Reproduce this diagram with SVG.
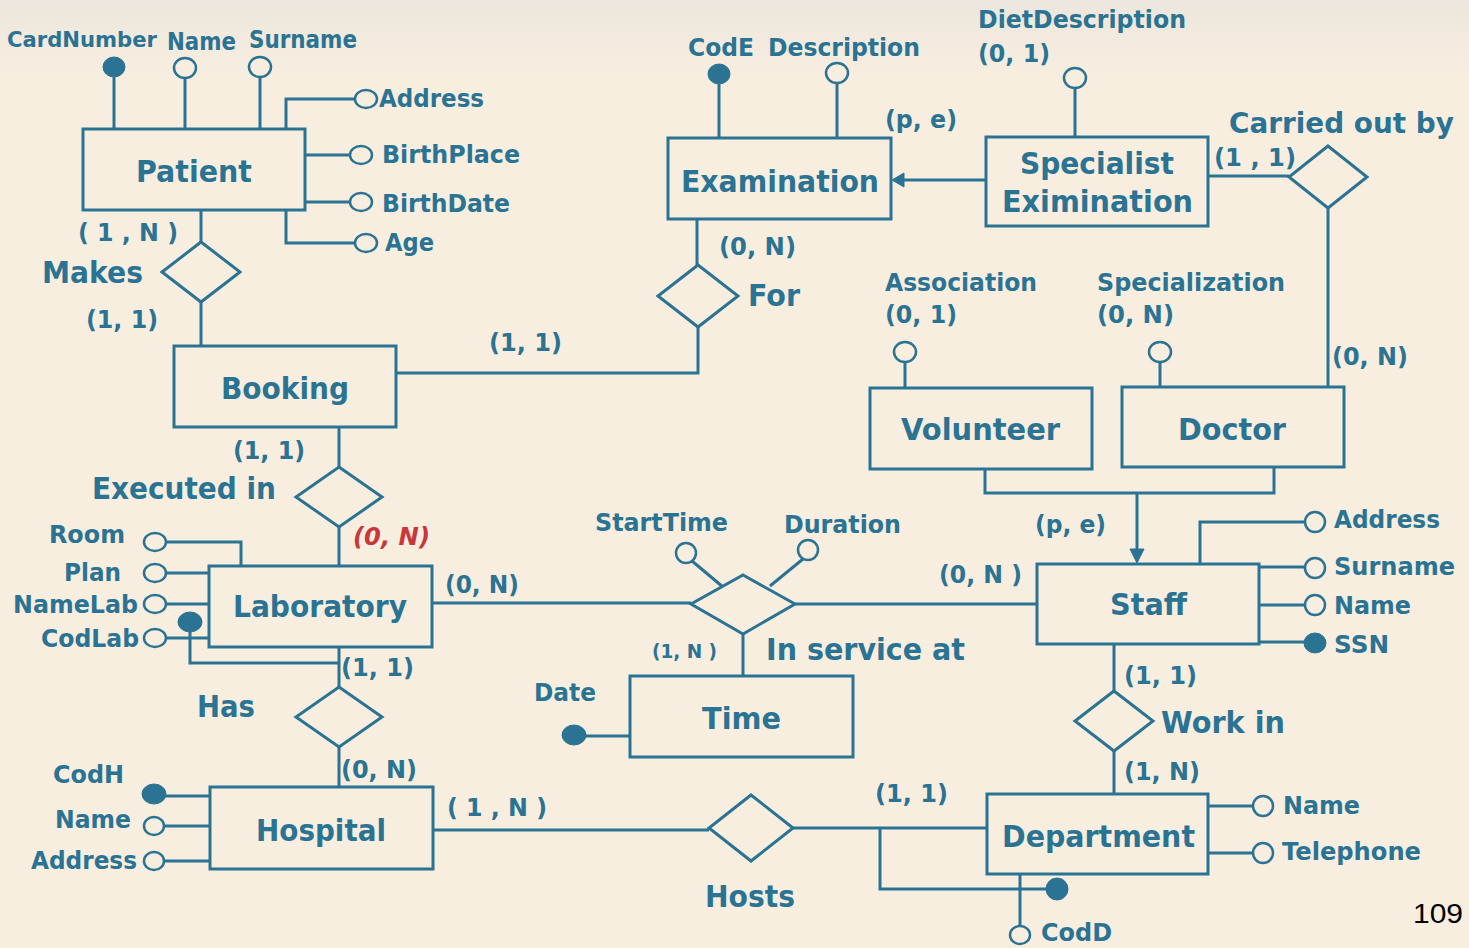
<svg xmlns="http://www.w3.org/2000/svg" width="1469" height="948" viewBox="0 0 1469 948">
<defs>
<style>
.e{fill:none;stroke:#2b7393;stroke-width:3}
.l{fill:none;stroke:#2b7393;stroke-width:3}
.o{fill:#f7eee0;stroke:#2b7393;stroke-width:2.5}
.f{fill:#2b7393;stroke:#2b7393;stroke-width:1}
text{font-family:"DejaVu Sans","Verdana",sans-serif;font-weight:bold;fill:#2b7393}
.t{font-size:31px}
.a{font-size:24px}
.s{font-size:19px}
.r{fill:#c8373a;font-style:italic}
.n{font-family:"Liberation Sans",Arial,sans-serif;font-weight:normal;fill:#000;font-size:28px}
</style>
<linearGradient id="bg" x1="0" y1="0" x2="0" y2="1">
<stop offset="0" stop-color="#ece6dc"/>
<stop offset="0.08" stop-color="#f7eee0"/>
<stop offset="1" stop-color="#f7eee0"/>
</linearGradient>
</defs>
<rect x="0" y="0" width="1469" height="948" fill="url(#bg)"/>

<g id="connectors">
<path class="l" d="M114 77V129M185 78V129M260 77V129M286 129V99H355M305 155H350M305 202H350M286 210V243H355"/>
<path class="l" d="M201 210V242M201 302V347"/>
<path class="l" d="M396 373H698V327M697 219V265"/>
<path class="l" d="M719 84V138M837 83V138"/>
<path class="l" d="M986 180H900"/>
<polygon class="f" points="892,180 904,173 904,187"/>
<path class="l" d="M1075 88V137"/>
<path class="l" d="M1208 176H1289M1328 208V387"/>
<path class="l" d="M905 362V388M1160 362V387"/>
<path class="l" d="M985 469V493H1274V467M1137 493V552"/>
<polygon class="f" points="1137,563 1130,549 1144,549"/>
<path class="l" d="M1200 564V522H1304M1259 567H1304M1259 605H1304M1259 642H1304"/>
<path class="l" d="M432 603H691M795 604H1037M743 634V676M692 561L723 587M803 559L770 586"/>
<path class="l" d="M585 736H630"/>
<path class="l" d="M339 427V467M339 527V566"/>
<path class="l" d="M166 542H241V566M166 573H209M166 604H209M166 638H209M190 622V663H339"/>
<path class="l" d="M339 647V687M339 747V787"/>
<path class="l" d="M154 796H210M165 826H210M165 861H210"/>
<path class="l" d="M433 830H709M793 828H987M880 828V889H1050"/>
<path class="l" d="M1020 874V926M1208 806H1252M1208 853H1252"/>
<path class="l" d="M1114 644V691M1114 751V794"/>
</g>

<g id="patient">
<rect class="e" x="83" y="129" width="222" height="81"/>
<text class="t" x="136" y="182" textLength="116" lengthAdjust="spacingAndGlyphs">Patient</text>
<ellipse class="f" cx="114" cy="67" rx="11" ry="10"/>
<ellipse class="o" cx="185" cy="68" rx="11" ry="10"/>
<ellipse class="o" cx="260" cy="67" rx="11" ry="10"/>
<ellipse class="o" cx="366" cy="99" rx="11" ry="9"/>
<ellipse class="o" cx="361" cy="155" rx="11" ry="9"/>
<ellipse class="o" cx="361" cy="202" rx="11" ry="9"/>
<ellipse class="o" cx="366" cy="243" rx="11" ry="9"/>
<text class="a" x="7" y="47" style="font-size:22px" textLength="150" lengthAdjust="spacingAndGlyphs">CardNumber</text>
<text class="a" x="167" y="50" textLength="69" lengthAdjust="spacingAndGlyphs">Name</text>
<text class="a" x="249" y="48" textLength="108" lengthAdjust="spacingAndGlyphs">Surname</text>
<text class="a" x="379" y="107" textLength="105" lengthAdjust="spacingAndGlyphs">Address</text>
<text class="a" x="382" y="163" textLength="138" lengthAdjust="spacingAndGlyphs">BirthPlace</text>
<text class="a" x="382" y="212" textLength="128" lengthAdjust="spacingAndGlyphs">BirthDate</text>
<text class="a" x="385" y="251" textLength="49" lengthAdjust="spacingAndGlyphs">Age</text>
</g>

<g id="makes">
<polygon class="e" points="201,242 240,272 201,302 162,272"/>
<text class="t" x="42" y="283" textLength="101" lengthAdjust="spacingAndGlyphs">Makes</text>
<text class="a" x="78" y="241" textLength="100" lengthAdjust="spacingAndGlyphs">( 1 , N )</text>
<text class="a" x="86" y="328" textLength="72" lengthAdjust="spacingAndGlyphs">(1, 1)</text>
</g>

<g id="booking">
<rect class="e" x="174" y="346" width="222" height="81"/>
<text class="t" x="221" y="399" textLength="128" lengthAdjust="spacingAndGlyphs">Booking</text>
<text class="a" x="489" y="351" textLength="73" lengthAdjust="spacingAndGlyphs">(1, 1)</text>
</g>

<g id="examination">
<rect class="e" x="668" y="138" width="223" height="81"/>
<text class="t" x="681" y="192" textLength="198" lengthAdjust="spacingAndGlyphs">Examination</text>
<ellipse class="f" cx="719" cy="74" rx="11" ry="10"/>
<ellipse class="o" cx="837" cy="73" rx="11" ry="10"/>
<text class="a" x="688" y="56" textLength="66" lengthAdjust="spacingAndGlyphs">CodE</text>
<text class="a" x="768" y="56" textLength="152" lengthAdjust="spacingAndGlyphs">Description</text>
<text class="a" x="885" y="128" textLength="72" lengthAdjust="spacingAndGlyphs">(p, e)</text>
<text class="a" x="719" y="255" textLength="77" lengthAdjust="spacingAndGlyphs">(0, N)</text>
</g>

<g id="for">
<polygon class="e" points="698,265 738,296 698,327 658,296"/>
<text class="t" x="748" y="306" textLength="52" lengthAdjust="spacingAndGlyphs">For</text>
</g>

<g id="specialist">
<rect class="e" x="986" y="137" width="222" height="89"/>
<text class="t" x="1020" y="174" textLength="154" lengthAdjust="spacingAndGlyphs">Specialist</text>
<text class="t" x="1002" y="212" textLength="191" lengthAdjust="spacingAndGlyphs">Eximination</text>
<ellipse class="o" cx="1075" cy="78" rx="11" ry="10"/>
<text class="a" x="978" y="28" textLength="208" lengthAdjust="spacingAndGlyphs">DietDescription</text>
<text class="a" x="978" y="62" textLength="72" lengthAdjust="spacingAndGlyphs">(0, 1)</text>
</g>

<g id="carried">
<polygon class="e" points="1328,146 1367,177 1328,208 1289,177"/>
<text class="t" x="1229" y="133" style="font-size:28px" textLength="225" lengthAdjust="spacingAndGlyphs">Carried out by</text>
<text class="a" x="1214" y="166" textLength="82" lengthAdjust="spacingAndGlyphs">(1 , 1)</text>
<text class="a" x="1332" y="365" textLength="76" lengthAdjust="spacingAndGlyphs">(0, N)</text>
</g>

<g id="volunteer">
<rect class="e" x="870" y="388" width="222" height="81"/>
<text class="t" x="901" y="440" textLength="159" lengthAdjust="spacingAndGlyphs">Volunteer</text>
<ellipse class="o" cx="905" cy="352" rx="11" ry="10"/>
<text class="a" x="885" y="291" textLength="152" lengthAdjust="spacingAndGlyphs">Association</text>
<text class="a" x="885" y="323" textLength="72" lengthAdjust="spacingAndGlyphs">(0, 1)</text>
</g>

<g id="doctor">
<rect class="e" x="1122" y="387" width="222" height="80"/>
<text class="t" x="1178" y="440" textLength="108" lengthAdjust="spacingAndGlyphs">Doctor</text>
<ellipse class="o" cx="1160" cy="352" rx="11" ry="10"/>
<text class="a" x="1097" y="291" textLength="188" lengthAdjust="spacingAndGlyphs">Specialization</text>
<text class="a" x="1097" y="323" textLength="77" lengthAdjust="spacingAndGlyphs">(0, N)</text>
</g>

<g id="staff">
<rect class="e" x="1037" y="564" width="222" height="80"/>
<text class="t" x="1110" y="615" textLength="77" lengthAdjust="spacingAndGlyphs">Staff</text>
<ellipse class="o" cx="1315" cy="522" rx="10" ry="10"/>
<ellipse class="o" cx="1315" cy="568" rx="10" ry="10"/>
<ellipse class="o" cx="1315" cy="605" rx="10" ry="10"/>
<ellipse class="f" cx="1315" cy="643" rx="11" ry="10"/>
<text class="a" x="1334" y="528" textLength="106" lengthAdjust="spacingAndGlyphs">Address</text>
<text class="a" x="1334" y="575" textLength="121" lengthAdjust="spacingAndGlyphs">Surname</text>
<text class="a" x="1334" y="614" textLength="77" lengthAdjust="spacingAndGlyphs">Name</text>
<text class="a" x="1334" y="653" textLength="55" lengthAdjust="spacingAndGlyphs">SSN</text>
<text class="a" x="1035" y="533" textLength="71" lengthAdjust="spacingAndGlyphs">(p, e)</text>
<text class="a" x="939" y="583" textLength="83" lengthAdjust="spacingAndGlyphs">(0, N )</text>
</g>

<g id="inservice">
<polygon class="e" points="743,575 795,604 743,634 691,604"/>
<ellipse class="o" cx="686" cy="553" rx="10" ry="10"/>
<ellipse class="o" cx="808" cy="550" rx="10" ry="10"/>
<text class="a" x="595" y="531" textLength="133" lengthAdjust="spacingAndGlyphs">StartTime</text>
<text class="a" x="784" y="533" textLength="117" lengthAdjust="spacingAndGlyphs">Duration</text>
<text class="s" x="652" y="658" textLength="65" lengthAdjust="spacingAndGlyphs">(1, N )</text>
<text class="t" x="766" y="660" textLength="199" lengthAdjust="spacingAndGlyphs">In service at</text>
</g>

<g id="time">
<rect class="e" x="630" y="676" width="223" height="81"/>
<text class="t" x="702" y="729" textLength="79" lengthAdjust="spacingAndGlyphs">Time</text>
<ellipse class="f" cx="574" cy="735" rx="12" ry="10"/>
<text class="a" x="534" y="701" textLength="62" lengthAdjust="spacingAndGlyphs">Date</text>
</g>

<g id="executed">
<polygon class="e" points="339,467 382,497 339,527 296,497"/>
<text class="t" x="92" y="499" textLength="184" lengthAdjust="spacingAndGlyphs">Executed in</text>
<text class="a" x="233" y="459" textLength="72" lengthAdjust="spacingAndGlyphs">(1, 1)</text>
<text class="a r" x="353" y="545" textLength="77" lengthAdjust="spacingAndGlyphs">(0, N)</text>
</g>

<g id="laboratory">
<rect class="e" x="209" y="566" width="223" height="81"/>
<text class="t" x="233" y="617" textLength="174" lengthAdjust="spacingAndGlyphs">Laboratory</text>
<ellipse class="o" cx="155" cy="542" rx="11" ry="9"/>
<ellipse class="o" cx="155" cy="573" rx="11" ry="9"/>
<ellipse class="o" cx="155" cy="604" rx="11" ry="9"/>
<ellipse class="o" cx="155" cy="638" rx="11" ry="9"/>
<ellipse class="f" cx="190" cy="622" rx="12" ry="10"/>
<text class="a" x="49" y="543" textLength="76" lengthAdjust="spacingAndGlyphs">Room</text>
<text class="a" x="64" y="581" textLength="57" lengthAdjust="spacingAndGlyphs">Plan</text>
<text class="a" x="13" y="613" textLength="125" lengthAdjust="spacingAndGlyphs">NameLab</text>
<text class="a" x="41" y="647" textLength="98" lengthAdjust="spacingAndGlyphs">CodLab</text>
<text class="a" x="445" y="593" textLength="74" lengthAdjust="spacingAndGlyphs">(0, N)</text>
</g>

<g id="has">
<polygon class="e" points="339,687 382,717 339,747 296,717"/>
<text class="t" x="197" y="717" textLength="58" lengthAdjust="spacingAndGlyphs">Has</text>
<text class="a" x="341" y="676" textLength="73" lengthAdjust="spacingAndGlyphs">(1, 1)</text>
<text class="a" x="341" y="778" textLength="76" lengthAdjust="spacingAndGlyphs">(0, N)</text>
</g>

<g id="hospital">
<rect class="e" x="210" y="787" width="223" height="82"/>
<text class="t" x="256" y="841" textLength="130" lengthAdjust="spacingAndGlyphs">Hospital</text>
<ellipse class="f" cx="154" cy="794" rx="12" ry="10"/>
<ellipse class="o" cx="154" cy="826" rx="10" ry="9"/>
<ellipse class="o" cx="154" cy="861" rx="10" ry="9"/>
<text class="a" x="53" y="783" textLength="71" lengthAdjust="spacingAndGlyphs">CodH</text>
<text class="a" x="55" y="828" textLength="76" lengthAdjust="spacingAndGlyphs">Name</text>
<text class="a" x="31" y="869" textLength="106" lengthAdjust="spacingAndGlyphs">Address</text>
<text class="a" x="447" y="816" textLength="100" lengthAdjust="spacingAndGlyphs">( 1 , N )</text>
</g>

<g id="hosts">
<polygon class="e" points="751,795 793,828 751,861 709,828"/>
<text class="t" x="705" y="907" textLength="90" lengthAdjust="spacingAndGlyphs">Hosts</text>
<text class="a" x="875" y="802" textLength="73" lengthAdjust="spacingAndGlyphs">(1, 1)</text>
</g>

<g id="workin">
<polygon class="e" points="1114,691 1153,721 1114,751 1075,721"/>
<text class="t" x="1161" y="733" textLength="124" lengthAdjust="spacingAndGlyphs">Work in</text>
<text class="a" x="1124" y="684" textLength="73" lengthAdjust="spacingAndGlyphs">(1, 1)</text>
<text class="a" x="1124" y="780" textLength="76" lengthAdjust="spacingAndGlyphs">(1, N)</text>
</g>

<g id="department">
<rect class="e" x="987" y="794" width="221" height="80"/>
<text class="t" x="1002" y="847" textLength="193" lengthAdjust="spacingAndGlyphs">Department</text>
<ellipse class="o" cx="1263" cy="806" rx="10" ry="10"/>
<ellipse class="o" cx="1263" cy="853" rx="10" ry="10"/>
<ellipse class="f" cx="1057" cy="889" rx="11" ry="11"/>
<ellipse class="o" cx="1020" cy="935" rx="10" ry="9"/>
<text class="a" x="1041" y="941" textLength="71" lengthAdjust="spacingAndGlyphs">CodD</text>
<text class="a" x="1283" y="814" textLength="77" lengthAdjust="spacingAndGlyphs">Name</text>
<text class="a" x="1282" y="860" textLength="139" lengthAdjust="spacingAndGlyphs">Telephone</text>
</g>

<text class="n" x="1413" y="923" textLength="50" lengthAdjust="spacingAndGlyphs">109</text>
</svg>
